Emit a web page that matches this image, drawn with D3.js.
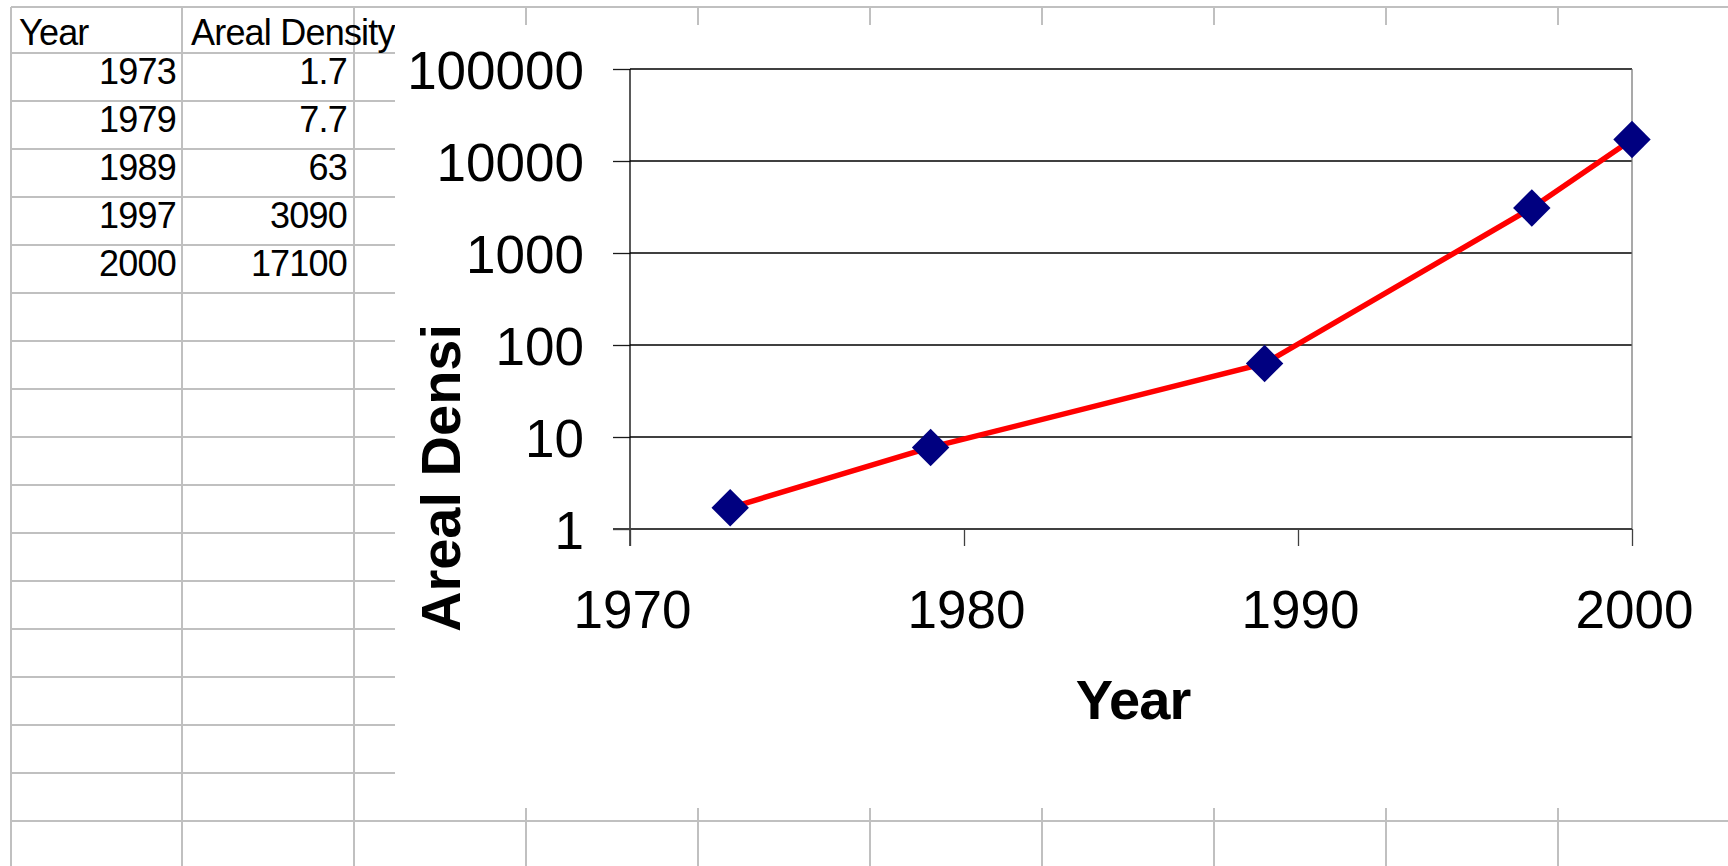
<!DOCTYPE html>
<html>
<head>
<meta charset="utf-8">
<script src="https://cdn.jsdelivr.net/npm/d3@7"></script>
<style>
  html, body { margin: 0; padding: 0; background: #fff; }
  svg { display: block; }
  text { font-family: "Liberation Sans", Arial, sans-serif; }
</style>
</head>
<body>
<svg id="chart" width="1728" height="866"></svg>
<script>
// ---- data ----
const years = [1973, 1979, 1989, 1997, 2000];
const density = [1.7, 7.7, 63, 3090, 17100];
const densityLabels = ["1.7", "7.7", "63", "3090", "17100"];
const headers = ["Year", "Areal Density"];
const xTicks = [1970, 1980, 1990, 2000];
const yTicks = [1, 10, 100, 1000, 10000, 100000];
const xTitle = "Year";
const yTitle = "Areal Densi";

(function () {
const W = 1728, H = 866;
const svg = d3.select("#chart");

// ---- spreadsheet background ----
const grid = svg.append("g").attr("stroke", "#c0c0c0").attr("stroke-width", 2);
const rowYs = d3.range(17).map(i => 53 + 48 * i);
grid.append("line").attr("x1", 11).attr("x2", W).attr("y1", 7).attr("y2", 7);
rowYs.forEach(yy => grid.append("line").attr("x1", 11).attr("x2", W).attr("y1", yy).attr("y2", yy));
const colXs = [11, 182, 354].concat(d3.range(7).map(i => 526 + 172 * i));
colXs.forEach(xx => grid.append("line").attr("x1", xx).attr("x2", xx).attr("y1", 7).attr("y2", H));

const table = svg.append("g").attr("font-size", 36).attr("fill", "#000").attr("letter-spacing", -0.8);
table.append("text").attr("x", 19).attr("y", 45).text(headers[0]);
table.append("text").attr("x", 191).attr("y", 45).text(headers[1]);
years.forEach((yr, i) => {
  table.append("text").attr("x", 176).attr("y", 84 + 48 * i).attr("text-anchor", "end").text(yr);
  table.append("text").attr("x", 347).attr("y", 84 + 48 * i).attr("text-anchor", "end").text(densityLabels[i]);
});

// ---- chart area ----
svg.append("rect").attr("x", 395).attr("y", 25).attr("width", W - 395).attr("height", 808 - 25).attr("fill", "#fff");

const pL = 630, pR = 1632, pT = 69, pB = 529;
const x = d3.scaleLinear().domain([1970, 2000]).range([pL, pR]);
const y = d3.scaleLog().domain([1, 100000]).range([pB, pT]);

// gridlines
svg.append("g").selectAll("line").data(yTicks.slice(1)).join("line")
  .attr("x1", pL).attr("x2", pR)
  .attr("y1", d => y(d)).attr("y2", d => y(d))
  .attr("stroke", "#000").attr("stroke-width", 1.3);

// right border
svg.append("line").attr("x1", pR).attr("x2", pR).attr("y1", pT).attr("y2", pB)
  .attr("stroke", "#707070").attr("stroke-width", 1.2);

// y axis
const yAxis = svg.append("g").attr("transform", `translate(${pL},0)`)
  .call(d3.axisLeft(y).tickValues(yTicks).tickFormat(d3.format("d")).tickSize(17).tickSizeOuter(0).tickPadding(29));
yAxis.select(".domain").remove();
yAxis.selectAll(".tick line").attr("stroke", "#1a1a1a").attr("stroke-width", 1.3);
yAxis.selectAll(".tick text").attr("font-size", 53).attr("font-family", "Liberation Sans, Arial, sans-serif")
  .attr("fill", "#000").attr("dy", "0.36em");
svg.append("line").attr("x1", pL).attr("x2", pL).attr("y1", pT).attr("y2", pB + 17)
  .attr("stroke", "#000").attr("stroke-width", 1.3);

// x axis
const xAxis = svg.append("g").attr("transform", `translate(0,${pB})`)
  .call(d3.axisBottom(x).tickValues(xTicks).tickFormat(d3.format("d")).tickSize(17).tickSizeOuter(0));
xAxis.select(".domain").remove();
xAxis.selectAll(".tick line").attr("stroke", "#404040").attr("stroke-width", 1.3);
xAxis.selectAll(".tick text").attr("font-size", 53).attr("font-family", "Liberation Sans, Arial, sans-serif")
  .attr("fill", "#000").attr("y", 99).attr("dy", 0).attr("dx", 2);
svg.append("line").attr("x1", pL - 17).attr("x2", pR).attr("y1", pB).attr("y2", pB)
  .attr("stroke", "#404040").attr("stroke-width", 2);

// titles
svg.append("text").attr("x", 1133).attr("y", 719).attr("text-anchor", "middle")
  .attr("font-size", 56).attr("font-weight", "bold").attr("letter-spacing", -1).text(xTitle);
svg.append("text").attr("transform", "translate(460,478) rotate(-90)").attr("text-anchor", "middle")
  .attr("font-size", 56).attr("font-weight", "bold").text(yTitle);

// series line
const pts = years.map((yr, i) => [yr, density[i]]);
svg.append("path").datum(pts)
  .attr("d", d3.line().x(d => x(d[0])).y(d => y(d[1])))
  .attr("fill", "none").attr("stroke", "#ff0000").attr("stroke-width", 5.5);

// markers
svg.append("g").selectAll("path").data(pts).join("path")
  .attr("d", d3.symbol(d3.symbolSquare, 700))
  .attr("transform", d => `translate(${x(d[0])},${y(d[1])}) rotate(45)`)
  .attr("fill", "#000080");
})();
</script>
</body>
</html>
